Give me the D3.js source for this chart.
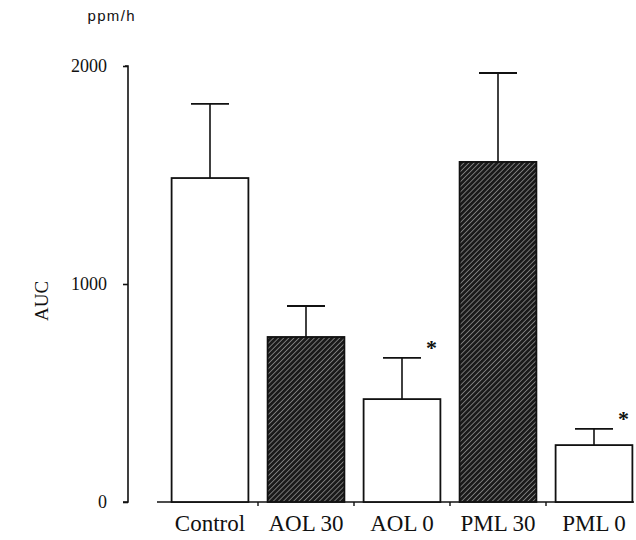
<!DOCTYPE html>
<html>
<head>
<meta charset="utf-8">
<script src="https://cdn.jsdelivr.net/npm/d3@7"></script>
<style>
  body { margin: 0; background: #fff; }
  svg text { font-family: "Liberation Serif", "Times New Roman", serif; fill: #111; }
</style>
</head>
<body>
<div id="chart"></div>
<script>
// values
const categories = ["Control", "AOL 30", "AOL 0", "PML 30", "PML 0"];
const means = [1486, 757, 472, 1560, 261];
const errTops = [1826, 899, 661, 1968, 335];
const hatched = [false, true, false, true, false];
const starred = [false, false, true, false, true];
const yTicks = [0, 1000, 2000];

const svgWidth = 636;
const svgHeight = 540;

let svg = d3.select("#chart").append("svg")
    .attr("width", svgWidth)
    .attr("height", svgHeight);

// hatch pattern for the dark bars
let pat = svg.append("defs").append("pattern")
    .attr("id", "hatch")
    .attr("patternUnits", "userSpaceOnUse")
    .attr("width", 3.6)
    .attr("height", 3.6)
    .attr("patternTransform", "rotate(45)");
pat.append("rect").attr("width", 3.6).attr("height", 3.6).attr("fill", "#1a1a1a");
pat.append("line")
    .attr("x1", 0).attr("y1", 0).attr("x2", 0).attr("y2", 3.6)
    .attr("stroke", "#d0d0d0").attr("stroke-width", 1);

let x = d3.scaleBand()
    .domain(categories)
    .range([162, 642])
    .paddingInner(0.2)
    .paddingOuter(0.1);

let y = d3.scaleLinear()
    .domain([0, 2000])
    .range([502, 66]);

// y axis
let yAxis = svg.append("g")
    .attr("transform", "translate(128,0)")
    .call(d3.axisLeft(y).tickValues(yTicks).tickSize(5).tickPadding(16).tickFormat(d3.format("d")));
yAxis.select(".domain").attr("stroke", "#111").attr("stroke-width", 1.6).attr("d", "M-3,66H0V502H-5");
yAxis.selectAll(".tick line").attr("stroke", "#111").attr("stroke-width", 1.6);
yAxis.selectAll(".tick text")
    .style("font-size", "18px")
    .attr("font-family", "Liberation Serif, serif");

// x baseline with small ticks between bars
svg.append("line")
    .attr("x1", 157).attr("x2", 634)
    .attr("y1", y(0)).attr("y2", y(0))
    .attr("stroke", "#111").attr("stroke-width", 1.6);

svg.append("g").selectAll("line.sep")
    .data(categories.slice(1))
    .enter()
    .append("line")
        .attr("x1", d => x(d) - x.step() * x.paddingInner() / 2)
        .attr("x2", d => x(d) - x.step() * x.paddingInner() / 2)
        .attr("y1", y(0))
        .attr("y2", y(0) + 4)
        .attr("stroke", "#111")
        .attr("stroke-width", 1.4);

// error bars (upper only)
let err = svg.append("g");
categories.forEach((c, i) => {
    let cx = x(c) + x.bandwidth() / 2;
    err.append("line")
        .attr("x1", cx).attr("x2", cx)
        .attr("y1", y(means[i])).attr("y2", y(errTops[i]))
        .attr("stroke", "#111").attr("stroke-width", 1.6);
    err.append("line")
        .attr("x1", cx - 19).attr("x2", cx + 19)
        .attr("y1", y(errTops[i])).attr("y2", y(errTops[i]))
        .attr("stroke", "#111").attr("stroke-width", 1.8);
});

// bars
svg.append("g").selectAll("rect")
    .data(categories)
    .enter()
    .append("rect")
        .attr("x", d => x(d))
        .attr("y", (d, i) => y(means[i]))
        .attr("width", x.bandwidth())
        .attr("height", (d, i) => y(0) - y(means[i]))
        .attr("fill", (d, i) => hatched[i] ? "url(#hatch)" : "#fff")
        .attr("stroke", "#111")
        .attr("stroke-width", 1.8);

// significance stars
svg.append("g").selectAll("text")
    .data(categories.filter((c, i) => starred[i]))
    .enter()
    .append("text")
        .attr("x", d => x(d) + x.bandwidth() - 9)
        .attr("y", d => y(errTops[categories.indexOf(d)]) - 3)
        .attr("text-anchor", "middle")
        .style("font-size", "22px")
        .style("font-weight", "bold")
        .text("*");

// category labels
svg.append("g").selectAll("text")
    .data(categories)
    .enter()
    .append("text")
        .attr("x", d => x(d) + x.bandwidth() / 2)
        .attr("y", 531)
        .attr("text-anchor", "middle")
        .style("font-size", "23px")
        .text(d => d);

// axis titles
svg.append("text")
    .attr("x", 111).attr("y", 21)
    .attr("text-anchor", "middle")
    .style("font-family", "Liberation Sans, Arial, sans-serif")
    .style("font-size", "15px")
    .attr("textLength", 47)
    .text("ppm/h");

svg.append("text")
    .attr("transform", "translate(48,301) rotate(-90)")
    .attr("text-anchor", "middle")
    .style("font-size", "19px")
    .text("AUC");
</script>
</body>
</html>
